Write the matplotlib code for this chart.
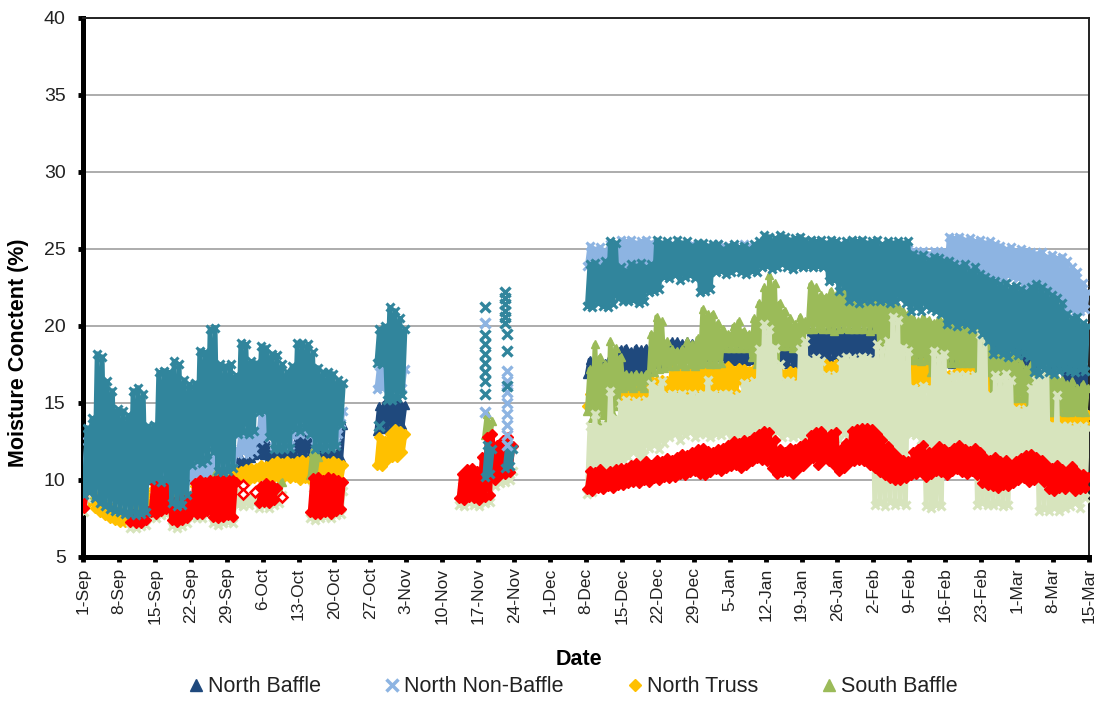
import numpy as np
import pandas as pd
import matplotlib
matplotlib.use('Agg')
import matplotlib.pyplot as plt
from matplotlib.lines import Line2D

plt.rcParams['font.family'] = ['Liberation Sans', 'DejaVu Sans']

# day numbers counted from 1-Sep; readings come in four logging periods
# (1-Sep..21-Oct, 28-Oct..2-Nov, 13-Nov..23-Nov, 8-Dec..15-Mar)
period_start = [0, 57, 73, 98]

# ---------------- North Baffle (daily low / high, %) ----------------
nb_lo = [
    [10.0, 10.1, 10.0, 10.1, 10.0, 10.1, 10.0, 10.1, 10.0, 10.1,
     10.0, 10.1, 10.0, 10.1, 10.0, 10.1, 10.0, 10.1, 10.0, 10.1,
     10.2, 10.3, 10.2, 10.3, 10.2, 10.6, 10.7, 10.6, 10.6, 10.7,
     10.6, 10.8, 10.9, 11.6, 11.7, 11.6, 11.5, 11.6, 11.5, 11.6,
     11.5, 11.6, 11.7, 11.6, 11.7, 11.4, 11.5, 11.4, 11.5, 11.4,
     11.4],
    [13.2, 13.3, 13.4, 13.3, 13.5, 13.6],
    [],
    [16.9, 17.0, 16.9, 17.1, 17.0, 17.1, 16.9, 17.0, 16.9, 17.1,
     17.0, 16.9, 17.0, 17.5, 17.6, 17.5, 18.6, 18.6, 18.6, 18.0,
     18.1, 18.0, 18.1, 18.0, 18.1, 18.0, 18.1, 17.7, 17.8, 17.7,
     17.8, 17.7, 17.8, 18.0, 18.1, 18.0, 18.1, 17.5, 17.6, 17.5,
     17.6, 17.5, 17.6, 18.0, 18.1, 18.0, 18.1, 18.0, 18.1, 18.0,
     18.1, 18.0, 18.1, 18.0, 18.1, 18.0, 18.1, 17.5, 17.6, 17.5,
     17.6, 17.5, 17.6, 17.5, 17.6, 17.5, 17.6, 17.5, 17.6, 17.5,
     17.6, 17.5, 17.6, 17.5, 17.6, 17.5, 17.6, 17.5, 17.6, 17.5,
     17.6, 17.5, 17.6, 17.5, 17.6, 17.5, 17.6, 17.5, 17.6, 17.5,
     17.6, 17.5, 17.6, 16.0, 16.1, 16.0, 16.1, 16.0],
]
nb_hi = [
    [11.5, 11.4, 11.5, 11.4, 11.5, 11.4, 11.5, 11.4, 11.5, 11.4,
     11.5, 11.4, 11.5, 11.4, 11.5, 11.4, 11.5, 11.4, 11.5, 11.4,
     11.0, 11.1, 11.0, 11.1, 11.0, 10.8, 10.9, 10.8, 11.2, 11.3,
     11.4, 11.3, 11.4, 12.5, 12.7, 12.6, 11.9, 11.8, 11.9, 11.8,
     11.9, 13.0, 13.2, 13.1, 13.0, 11.9, 11.8, 11.9, 11.8, 11.9,
     13.6],
    [14.8, 15.0, 15.2, 15.1, 15.0, 14.9],
    [],
    [17.8, 17.7, 17.8, 17.6, 18.0, 18.1, 18.5, 18.6, 18.4, 18.6,
     18.5, 18.6, 18.4, 18.5, 18.4, 18.6, 19.0, 19.0, 18.9, 19.0,
     18.9, 19.0, 18.9, 19.0, 18.9, 19.0, 18.9, 18.5, 18.4, 18.5,
     18.4, 18.5, 18.4, 19.0, 18.9, 19.0, 18.9, 18.6, 18.5, 18.6,
     18.5, 18.6, 18.5, 19.7, 19.6, 19.7, 19.6, 19.7, 19.6, 19.7,
     19.6, 19.7, 19.6, 19.7, 19.6, 19.7, 19.6, 19.0, 18.9, 19.0,
     18.9, 19.0, 18.9, 19.0, 18.9, 19.0, 18.9, 19.0, 18.9, 19.0,
     18.9, 19.0, 18.9, 19.0, 18.9, 19.0, 18.9, 19.0, 18.9, 19.0,
     18.9, 19.0, 18.9, 19.0, 18.9, 19.0, 18.9, 19.0, 18.9, 19.0,
     18.9, 19.0, 18.9, 17.3, 17.2, 17.3, 17.2, 17.3],
]

# ---------------- North Non-Baffle ----------------
nnb_lo = [
    [10.5, 10.6, 10.5, 10.4, 10.5, 10.6, 10.5, 10.4, 10.5, 10.6,
     10.5, 10.4, 10.5, 10.6, 10.5, 10.6, 10.5, 10.4, 10.5, 10.6,
     10.5, 10.0, 10.2, 10.1, 10.3, 10.4, 10.6, 10.7, 10.6, 10.8,
     11.7, 11.8, 11.7, 11.9, 12.6, 12.7, 12.9, 12.2, 12.1, 12.2,
     12.3, 13.1, 13.0, 13.1, 12.9, 12.2, 12.3, 12.2, 12.3, 12.4,
     13.7],
    [15.9, 16.0, 16.2, 16.0, 16.1, 16.0],
    [],
    [23.9, 24.0, 23.9, 24.1, 24.0, 24.1, 23.8, 23.9, 23.8, 23.9,
     23.8, 23.9, 23.8, 24.2, 24.3, 24.2, 24.3, 24.2, 24.3, 24.2,
     24.3, 24.2, 24.3, 24.2, 24.3, 24.2, 24.3, 24.2, 24.3, 24.2,
     24.3, 24.2, 24.3, 24.2, 24.3, 24.2, 24.3, 24.2, 24.3, 24.2,
     24.3, 24.2, 24.3, 24.2, 24.3, 24.2, 24.3, 24.2, 24.3, 24.2,
     24.3, 24.2, 24.3, 24.2, 24.3, 24.2, 24.3, 24.2, 24.3, 24.2,
     24.3, 24.2, 24.3, 23.8, 23.9, 23.8, 23.7, 23.8, 23.9, 23.8,
     23.2, 23.3, 23.2, 23.4, 23.2, 23.3, 23.1, 23.2, 23.3, 23.2,
     23.1, 23.2, 23.3, 23.2, 23.1, 21.9, 22.0, 21.8, 21.9, 22.0,
     21.9, 21.8, 21.9, 21.0, 21.1, 20.9, 21.0, 21.1],
]
nnb_hi = [
    [12.5, 12.4, 12.6, 12.5, 12.4, 12.5, 12.6, 12.5, 12.4, 12.5,
     12.6, 12.5, 12.4, 12.5, 12.6, 12.5, 12.4, 12.5, 12.6, 12.5,
     12.4, 11.2, 11.4, 11.3, 11.5, 13.7, 12.0, 11.9, 12.1, 12.0,
     13.0, 13.2, 13.1, 13.3, 14.9, 14.7, 13.0, 12.9, 13.1, 13.0,
     12.9, 13.6, 13.5, 13.6, 13.4, 13.0, 12.9, 13.0, 13.1, 13.0,
     14.5],
    [17.4, 17.2, 17.5, 17.3, 17.4, 17.2],
    [],
    [25.2, 25.0, 25.1, 24.9, 25.3, 25.2, 25.6, 25.5, 25.6, 25.4,
     25.5, 25.6, 25.4, 25.2, 25.1, 25.3, 25.2, 25.0, 25.2, 25.1,
     25.3, 25.2, 25.0, 25.2, 25.1, 25.3, 25.2, 25.0, 25.2, 25.1,
     25.3, 25.2, 25.0, 25.2, 25.1, 25.3, 25.2, 25.0, 25.2, 25.1,
     25.3, 25.2, 25.0, 25.2, 25.1, 25.3, 25.2, 25.0, 25.2, 25.1,
     25.3, 25.2, 25.0, 25.2, 25.1, 25.3, 25.2, 25.0, 25.2, 25.1,
     25.3, 25.2, 25.0, 24.9, 24.8, 24.9, 24.7, 24.9, 24.8, 24.9,
     25.8, 25.7, 25.8, 25.6, 25.7, 25.5, 25.6, 25.4, 25.5, 25.3,
     25.2, 25.0, 25.1, 24.9, 25.0, 24.9, 24.8, 24.7, 24.8, 24.5,
     24.6, 24.4, 24.5, 24.2, 23.8, 23.5, 22.8, 22.2],
]
# scattered single readings in the November gap
nnb_extra_day = [78.4, 78.4, 82.6, 82.6, 82.6, 82.6, 82.6, 82.6, 82.6, 82.6]
nnb_extra_val = [20.2, 14.4, 17.1, 16.4, 15.7, 15.0, 14.3, 13.6, 12.9, 12.3]

# ---------------- North Truss ----------------
nt_lo = [
    [8.4, 8.6, 8.2, 7.9, 7.7, 7.5, 7.4, 7.3, 7.3, 7.8,
     7.9, 7.8, 7.9, 8.5, 8.6, 8.5, 8.6, 8.0, 8.1, 8.0,
     8.1, 8.5, 8.6, 8.5, 8.6, 8.5, 9.8, 9.9, 9.9, 10.0,
     10.0, 10.1, 10.0, 10.1, 10.2, 10.3, 10.1, 10.2, 10.1, 10.2,
     10.1, 10.2, 10.0, 10.1, 10.0, 10.1, 10.0, 10.1, 10.0, 10.1,
     10.0],
    [11.0, 10.9, 11.3, 11.5, 11.5, 11.8],
    [],
    [14.8, 14.9, 14.8, 14.9, 15.0, 15.1, 15.0, 15.2, 15.3, 15.2,
     15.3, 15.2, 15.5, 15.6, 15.5, 15.6, 15.6, 15.7, 15.6, 15.8,
     15.6, 15.7, 15.6, 15.6, 15.6, 15.7, 15.6, 15.7, 15.6, 15.7,
     16.4, 16.5, 16.4, 16.0, 16.1, 16.0, 16.1, 16.0, 16.1, 16.5,
     16.6, 16.2, 16.3, 16.2, 16.3, 16.2, 16.9, 17.0, 16.9, 16.0,
     16.1, 16.0, 16.1, 16.0, 16.1, 16.0, 16.1, 16.0, 16.1, 16.0,
     16.1, 16.0, 16.1, 16.2, 16.3, 16.2, 16.3, 16.0, 16.1, 16.0,
     16.1, 16.0, 16.9, 17.0, 16.9, 17.0, 16.0, 16.1, 15.6, 15.0,
     15.1, 15.0, 15.1, 14.7, 14.8, 14.7, 14.5, 14.6, 14.5, 14.6,
     13.6, 13.7, 13.6, 13.7, 13.6, 13.7, 13.6, 13.7],
]
nt_hi = [
    [9.0, 9.2, 8.9, 8.6, 8.4, 8.2, 8.0, 7.9, 7.8, 9.2,
     9.1, 9.2, 9.1, 9.5, 9.4, 9.5, 9.4, 8.8, 8.7, 8.8,
     8.7, 9.6, 9.5, 9.6, 9.5, 9.6, 10.3, 10.2, 10.3, 10.5,
     10.6, 10.7, 10.8, 10.8, 11.0, 10.9, 11.1, 11.2, 11.1, 11.2,
     11.1, 11.2, 11.3, 11.2, 11.3, 11.2, 11.2, 11.1, 11.2, 11.1,
     11.0],
    [12.8, 12.5, 13.0, 13.3, 13.2, 13.0],
    [],
    [15.6, 15.5, 15.6, 15.5, 15.8, 15.7, 15.8, 16.0, 15.9, 16.0,
     15.9, 16.0, 16.5, 16.4, 16.5, 16.4, 17.3, 17.1, 17.3, 17.0,
     17.2, 17.3, 17.1, 17.0, 17.4, 17.2, 17.3, 17.4, 17.1, 17.3,
     17.2, 17.1, 17.2, 17.0, 16.9, 17.0, 16.9, 17.0, 16.9, 17.1,
     17.0, 17.0, 16.9, 17.0, 16.9, 17.0, 17.5, 17.4, 17.5, 17.0,
     16.9, 17.0, 16.9, 17.0, 16.9, 17.0, 16.9, 17.0, 16.9, 17.0,
     16.9, 17.0, 16.9, 17.7, 17.5, 17.6, 17.4, 16.9, 16.8, 16.9,
     16.8, 16.9, 17.5, 17.4, 17.5, 17.3, 16.8, 16.7, 16.9, 15.8,
     15.7, 15.8, 15.7, 15.2, 15.1, 15.2, 15.0, 14.9, 15.0, 14.9,
     14.3, 14.2, 14.3, 14.2, 14.3, 14.2, 14.3, 14.2],
]

# ---------------- South Baffle ----------------
sb_lo = [
    [8.4, None, None, None, None, None, None, None, None, None,
     None, None, None, None, None, None, None, None, None, None,
     None, None, None, None, None, 9.8, 9.9, 10.0, None, None,
     None, None, None, 8.9, None, None, None, 9.0, 8.9, None,
     None, None, None, None, 10.3, 10.3, None, None, None, None,
     None],
    [],
    [None, None, None, None, None, 12.9, 12.8, None, None, None, None],
    [14.5, 14.0, 13.8, 14.2, 14.0, 14.3, 14.8, 16.0, 16.1, 16.0,
     16.1, 16.0, 16.5, 17.0, 17.2, 17.3, 17.4, 17.4, 17.5, 17.4,
     17.5, 17.4, 17.5, 17.6, 17.5, 17.5, 17.6, 18.6, 18.6, 18.6,
     18.6, 18.6, 18.0, 17.5, 17.2, 17.0, 17.3, 17.4, 18.7, 18.7,
     18.6, 18.7, 18.7, 19.8, 19.8, 19.9, 19.8, 19.8, 19.7, 19.8,
     19.9, 19.8, 19.8, 19.8, 19.8, 19.7, 19.8, 18.0, 17.8, 17.7,
     17.8, 17.7, 17.8, 17.8, 17.8, 17.7, 17.8, 17.0, 17.0, 16.9,
     17.6, 17.6, 17.6, 17.6, 17.6, 17.6, 17.0, 15.2, 17.0, 15.3,
     15.2, 15.4, 14.9, 15.3, 15.3, 15.3, 14.9, 15.0, 14.9, 14.8,
     14.4, 14.4, 14.5, 14.4, 14.4, 14.5, 14.4, 14.4],
]
sb_hi = [
    [9.0, None, None, None, None, None, None, None, None, None,
     None, None, None, None, None, None, None, None, None, None,
     None, None, None, None, None, 10.4, 10.6, 10.5, None, None,
     None, None, None, 9.4, None, None, None, 9.6, 9.9, None,
     None, None, None, None, 11.9, 11.5, None, None, None, None,
     None],
    [],
    [None, None, None, None, None, 14.3, 13.8, None, None, None, None],
    [17.2, 18.8, 18.0, 17.5, 19.0, 18.6, 18.0, 16.9, 16.8, 16.9,
     16.8, 16.9, 19.5, 20.6, 20.3, 19.0, 18.5, 18.4, 18.5, 19.0,
     18.8, 19.2, 21.1, 20.8, 20.8, 20.2, 19.8, 19.5, 20.0, 20.3,
     19.7, 19.5, 20.5, 21.5, 22.5, 23.3, 22.8, 21.5, 21.0, 20.5,
     20.1, 20.6, 20.3, 22.7, 22.5, 22.0, 21.9, 22.3, 22.0, 22.2,
     22.4, 22.8, 23.4, 23.2, 22.8, 22.5, 22.2, 22.0, 21.7, 21.5,
     21.3, 21.0, 20.8, 20.5, 20.3, 20.6, 20.4, 20.2, 20.5, 20.3,
     20.6, 20.4, 20.5, 20.3, 21.2, 21.0, 20.4, 19.0, 18.7, 18.4,
     18.8, 18.5, 18.4, 18.0, 17.6, 17.2, 17.5, 17.0, 16.9, 17.2,
     16.9, 16.6, 16.5, 16.2, 16.4, 16.0, 16.2, 16.0],
]

# ---------------- pale green series (not in visible legend) ----------------
sr_lo = [
    [7.9, None, None, None, None, None, None, None, None, 6.9,
     6.9, 7.0, 7.1, 7.6, 7.5, 7.7, 7.8, 7.0, 6.9, 7.0,
     7.2, 7.6, 7.5, 7.5, 7.7, 7.2, 7.1, 7.2, 7.3, 7.2,
     8.4, 8.3, 8.4, 8.5, 8.2, 8.3, 8.2, 8.4, 8.5, None,
     None, None, None, None, 7.5, 7.4, 7.5, 7.6, 7.5, 7.7,
     7.8],
    [],
    [8.4, 8.3, 8.5, 8.4, 8.3, 8.5, 8.6, 9.6, 9.8, 9.9, 10.0],
    [9.1, 9.2, 9.6, 10.0, 10.5, 10.8, 11.0, 11.3, 11.5, 11.8,
     11.4, 11.6, 12.1, 12.3, 12.0, 12.4, 12.8, 13.0, 12.6, 12.9,
     13.1, 12.8, 13.0, 13.0, 12.8, 13.0, 12.9, 13.1, 12.7, 12.9,
     13.0, 12.9, 13.2, 13.0, 13.2, 12.9, 13.0, 13.1, 12.8, 13.0,
     12.8, 12.9, 12.6, 13.1, 12.8, 13.0, 12.7, 13.0, 12.8, 12.6,
     13.0, 12.5, 12.8, 13.0, 12.7, 12.5, 8.4, 8.5, 8.3, 8.6,
     8.4, 8.5, 8.4, 13.0, 12.9, 12.6, 8.3, 8.2, 8.4, 8.3,
     11.9, 11.5, 11.3, 11.8, 11.5, 11.9, 8.4, 8.5, 8.4, 8.4,
     8.5, 8.3, 8.4, 10.2, 10.4, 10.1, 10.3, 10.0, 8.0, 8.1,
     8.0, 8.2, 8.0, 8.2, 8.3, 8.5, 8.2, 8.8],
]
sr_hi = [
    [8.8, None, None, None, None, None, None, None, None, 7.6,
     7.6, 7.7, 7.8, 9.0, 9.1, 9.0, 8.9, 8.3, 8.4, 8.3,
     8.5, 9.2, 9.3, 9.2, 9.3, 9.3, 9.4, 9.3, 9.4, 9.2,
     8.8, 8.9, 8.8, 8.9, 9.0, 9.1, 9.0, 8.9, 9.0, None,
     None, None, None, None, 9.5, 9.6, 9.4, 9.6, 9.5, 9.4,
     9.3],
    [],
    [9.6, 9.8, 9.7, 9.9, 10.0, 10.2, 10.4, 10.6, 10.8, 10.7, 10.6],
    [13.5, 14.3, 13.4, 13.6, 15.8, 14.0, 15.0, 15.2, 15.0, 15.1,
     15.0, 15.2, 16.2, 16.0, 16.4, 15.5, 15.6, 15.5, 15.6, 15.4,
     15.6, 15.5, 15.6, 16.5, 15.6, 15.5, 15.6, 15.6, 15.4, 15.5,
     16.3, 16.2, 16.4, 18.5, 20.1, 19.8, 18.6, 17.5, 16.4, 16.4,
     16.3, 18.5, 19.0, 17.8, 17.9, 17.7, 16.8, 16.7, 16.8, 17.8,
     18.0, 17.9, 17.8, 18.0, 17.9, 17.8, 18.8, 18.5, 19.0, 20.6,
     20.4, 18.6, 18.4, 16.0, 15.9, 16.1, 16.0, 18.4, 18.0, 18.2,
     16.7, 16.8, 16.8, 16.8, 16.7, 16.8, 19.5, 19.3, 15.5, 16.8,
     16.6, 16.9, 16.5, 14.6, 14.5, 14.6, 16.0, 16.5, 16.9, 18.0,
     13.6, 15.5, 13.5, 13.5, 13.4, 13.5, 13.5, 13.4],
]

# ---------------- red series ----------------
st_lo = [
    [8.2, None, None, None, None, None, None, None, None, 7.3,
     7.2, 7.2, 7.4, 7.9, 7.8, 8.0, 8.1, 7.4, 7.3, 7.4,
     7.5, 7.9, 7.8, 7.8, 8.0, 7.6, 7.5, 7.6, 7.7, 7.6,
     None, None, None, None, 8.5, 8.6, 8.5, 8.7, None, None,
     None, None, None, None, 7.9, 7.8, 7.8, 7.9, 7.8, 8.0,
     8.1],
    [],
    [8.8, 8.7, 8.9, 8.8, 8.7, 8.9, 9.0, 10.0, 10.3, 10.4, 10.5],
    [9.4, 9.3, 9.5, 9.4, 9.6, 9.5, 9.7, 9.7, 9.8, 9.9,
     9.8, 10.0, 9.9, 10.1, 10.0, 10.2, 10.1, 10.2, 10.4, 10.3,
     10.5, 10.6, 10.4, 10.3, 10.5, 10.7, 10.6, 10.8, 10.9, 11.0,
     10.8, 11.0, 11.2, 11.4, 11.3, 11.2, 10.8, 10.4, 10.5, 10.6,
     10.4, 10.7, 10.9, 11.2, 11.4, 11.0, 11.3, 11.2, 11.0, 10.6,
     10.8, 11.1, 11.2, 11.3, 11.2, 11.0, 10.8, 10.5, 10.3, 10.1,
     10.0, 10.0, 10.1, 10.3, 10.4, 10.5, 10.2, 10.4, 10.6, 10.5,
     10.3, 10.6, 10.7, 10.5, 10.4, 10.6, 10.3, 9.8, 9.7, 9.6,
     9.5, 9.7, 9.6, 9.8, 10.0, 10.1, 9.9, 10.0, 10.2, 9.9,
     9.4, 9.3, 9.5, 9.4, 9.6, 9.3, 9.4, 9.5],
]
st_hi = [
    [9.4, None, None, None, None, None, None, None, None, 7.8,
     7.7, 7.9, 8.0, 9.8, 9.9, 9.9, 9.7, 8.6, 8.8, 8.7,
     8.9, 9.8, 10.0, 9.9, 10.0, 10.0, 10.1, 10.0, 10.1, 9.9,
     None, None, None, None, 9.6, 9.8, 9.7, 9.5, None, None,
     None, None, None, None, 10.1, 10.2, 10.0, 10.2, 10.1, 10.0,
     9.9],
    [],
    [10.4, 10.7, 10.8, 10.6, 11.5, 12.8, 13.0, 12.3, 12.6, 12.8, 12.2],
    [10.6, 10.5, 10.7, 10.4, 10.6, 10.7, 10.8, 10.8, 11.0, 11.1,
     10.9, 11.2, 11.0, 11.3, 11.2, 11.4, 11.3, 11.5, 11.7, 11.6,
     11.8, 12.0, 12.1, 11.9, 11.8, 12.0, 12.1, 12.3, 12.5, 12.4,
     12.6, 12.5, 12.8, 13.0, 13.2, 13.1, 12.6, 12.0, 11.8, 12.1,
     12.0, 12.2, 12.4, 12.9, 13.1, 13.2, 12.8, 13.0, 13.1, 12.0,
     12.4, 13.2, 13.3, 13.4, 13.4, 13.3, 13.0, 12.6, 12.2, 11.8,
     11.5, 11.3, 11.2, 11.8, 12.0, 12.3, 11.8, 11.9, 12.2, 12.0,
     11.8, 12.1, 12.3, 12.0, 11.9, 12.1, 11.8, 11.4, 11.3, 11.5,
     11.2, 11.3, 11.0, 11.2, 11.4, 11.6, 11.7, 11.5, 11.3, 11.0,
     10.8, 11.0, 10.7, 10.6, 10.9, 10.5, 10.4, 10.2],
]
# isolated readings drawn as open diamonds
st_open_day = [31.2, 31.2, 33.5, 38.8]
st_open_val = [9.7, 9.1, 9.2, 8.9]

# ---------------- teal series ----------------
snb_lo = [
    [9.0, 9.2, 8.8, 8.5, 8.3, 8.1, 8.0, 7.9, 7.8, 7.8,
     7.7, 7.8, 7.9, 10.0, 10.1, 9.9, 10.0, 8.5, 8.3, 8.4,
     9.0, 11.0, 11.2, 11.1, 11.3, 11.8, 10.6, 10.5, 10.6, 10.8,
     13.0, 13.1, 13.0, 13.2, 14.4, 14.5, 12.8, 12.0, 12.0, 12.0,
     12.1, 13.3, 13.2, 13.4, 13.0, 12.0, 12.1, 12.0, 12.1, 12.2,
     13.6],
    [17.6, 17.5, 15.2, 15.2, 15.3, 15.5],
    [None, None, None, None, None, 10.2, 10.4, None, None, 10.8, 10.9],
    [21.3, 21.2, 21.5, 21.3, 21.2, 21.4, 21.8, 21.6, 21.6, 21.7,
     21.5, 21.6, 22.2, 22.3, 22.4, 23.2, 23.1, 23.3, 23.0, 23.2,
     23.3, 23.1, 22.2, 22.3, 22.4, 23.5, 23.6, 23.4, 23.5, 23.7,
     23.5, 23.4, 23.6, 23.5, 23.8, 23.9, 23.7, 23.8, 24.0, 23.8,
     23.7, 23.9, 23.8, 23.9, 23.8, 23.9, 23.8, 22.9, 23.0, 22.3,
     22.5, 21.6, 21.8, 21.5, 21.7, 21.6, 21.8, 21.6, 21.7, 21.5,
     21.6, 21.8, 21.5, 21.0, 21.2, 21.0, 21.3, 21.1, 21.0, 20.8,
     20.1, 20.3, 20.0, 20.2, 20.1, 19.8, 20.0, 19.5, 19.0, 18.2,
     18.4, 18.2, 18.0, 18.3, 18.1, 18.2, 18.0, 17.0, 16.9, 17.2,
     17.0, 16.9, 17.1, 17.2, 17.1, 17.0, 17.2, 17.1],
]
snb_hi = [
    [13.4, 14.0, 18.2, 18.0, 16.4, 15.8, 14.6, 14.5, 14.2, 15.8,
     16.0, 15.6, 13.5, 13.6, 17.0, 17.1, 17.0, 17.7, 17.5, 16.5,
     16.2, 16.3, 18.4, 18.3, 19.8, 19.9, 17.5, 17.4, 17.5, 16.8,
     18.9, 18.8, 17.7, 17.6, 18.7, 18.6, 18.2, 18.1, 17.5, 17.0,
     17.4, 18.9, 18.9, 18.8, 18.3, 17.3, 17.0, 17.0, 16.9, 16.5,
     16.3],
    [19.8, 20.0, 21.2, 21.0, 20.5, 19.8],
    [None, None, None, None, None, 12.3, 12.0, None, None, 12.3, 12.0],
    [24.0, 24.1, 23.8, 24.2, 25.5, 25.4, 23.8, 23.6, 24.0, 23.9,
     24.1, 23.8, 24.0, 25.6, 25.4, 25.5, 25.3, 25.6, 25.4, 25.5,
     25.2, 25.4, 25.4, 25.2, 25.3, 25.3, 25.0, 25.2, 25.3, 25.1,
     25.2, 25.0, 25.3, 25.5, 25.9, 25.8, 25.7, 25.9, 25.8, 25.6,
     25.7, 25.8, 25.6, 25.6, 25.5, 25.6, 25.4, 25.6, 25.5, 25.3,
     25.5, 25.6, 25.5, 25.6, 25.4, 25.5, 25.6, 25.3, 25.5, 25.4,
     25.5, 25.4, 25.5, 24.7, 24.5, 24.6, 24.3, 24.5, 24.4, 24.2,
     24.2, 24.0, 23.8, 24.0, 23.6, 23.8, 23.4, 23.2, 23.0, 22.9,
     22.7, 22.8, 22.5, 22.6, 22.4, 22.2, 22.5, 22.7, 22.5, 22.3,
     22.0, 21.8, 21.5, 20.8, 20.5, 20.6, 20.2, 20.0],
]
snb_extra_day = [57.7, 78.4, 78.4, 78.4, 78.4, 78.4, 78.4, 78.4, 78.4,
                 82.3, 82.3, 82.3, 82.3, 82.3, 82.3, 82.6, 82.6, 82.6]
snb_extra_val = [13.5, 21.2, 19.4, 18.8, 18.2, 17.6, 17.0, 16.4, 15.6,
                 22.2, 21.8, 21.4, 21.0, 20.6, 20.2, 19.5, 18.4, 16.1]

legend_names = ['North Baffle', 'North Non-Baffle', 'North Truss', 'South Baffle']

c_nb, c_nnb, c_nt, c_sb = '#1F497D', '#8DB4E2', '#FFC000', '#9BBB59'
c_sr, c_st, c_snb = '#D7E4BD', '#FF0000', '#31859C'

fig = plt.figure(figsize=(10.99, 7.02), dpi=100)
ax = fig.add_axes([0.0755, 0.2066, 0.9154, 0.7678])


def draw_band(lo_parts, hi_parts, color, marker, z, ms=5.5, mew=1.0):
    for start, lo, hi in zip(period_start, lo_parts, hi_parts):
        if len(lo) == 0:
            continue
        lo = np.array(lo, dtype=float)
        hi = np.array(hi, dtype=float)
        days = start + np.arange(len(lo))
        x = np.column_stack([days + 0.25, days + 0.75]).ravel()
        y = np.column_stack([lo, hi]).ravel()
        ax.plot(x, y, color=color, lw=3.4, marker=marker, ms=ms,
                mfc=color, mec=color, mew=mew, zorder=z,
                solid_joinstyle='round', solid_capstyle='round')


draw_band(nb_lo, nb_hi, c_nb, '^', 2)
draw_band(nnb_lo, nnb_hi, c_nnb, 'x', 3, ms=6, mew=2.2)
draw_band(nt_lo, nt_hi, c_nt, 'D', 4, ms=5)
draw_band(sb_lo, sb_hi, c_sb, '^', 5)
draw_band(sr_lo, sr_hi, c_sr, 'x', 6, ms=6, mew=2.2)
draw_band(st_lo, st_hi, c_st, 'D', 7, ms=5)
draw_band(snb_lo, snb_hi, c_snb, 'x', 8, ms=6, mew=2.2)

ax.plot(nnb_extra_day, nnb_extra_val, ls='none', marker='x', ms=6.5, mew=2.4,
        color=c_nnb, zorder=8.5)
ax.plot(snb_extra_day, snb_extra_val, ls='none', marker='x', ms=6.5, mew=2.4,
        color=c_snb, zorder=8.6)
ax.plot(st_open_day, st_open_val, ls='none', marker='D', ms=5.5, mew=1.8,
        mfc='white', mec=c_st, zorder=7.5)

# axes
ax.set_xlim(0, 196)
ax.set_ylim(5, 40)
ax.set_yticks(np.arange(5, 41, 5))
tick_days = np.arange(0, 197, 7)
tick_dates = pd.date_range('2015-09-01', periods=len(tick_days), freq='7D')
ax.set_xticks(tick_days)
ax.set_xticklabels([f'{d.day}-{d:%b}' for d in tick_dates], rotation=90)

ax.grid(axis='y', color='#a6a6a6', lw=1.3)
ax.set_axisbelow(True)

for side in ['left', 'bottom']:
    ax.spines[side].set_linewidth(3.6)
    ax.spines[side].set_color('black')
for side in ['top', 'right']:
    ax.spines[side].set_linewidth(1.4)
    ax.spines[side].set_color('#222222')

ax.tick_params(axis='both', direction='out', length=3.5, width=3.5, color='black')
ax.tick_params(axis='x', labelsize=12.5, pad=4, labelcolor='#222222')
ax.tick_params(axis='y', labelsize=14, pad=9, labelcolor='#222222')

fig.text(0.017, 0.498, 'Moisture Conctent (%)', rotation=90, ha='center', va='center',
         fontsize=15.5, fontweight='bold')
fig.text(0.527, 0.06, 'Date', ha='center', va='center', fontsize=15.5, fontweight='bold')

handles = [
    Line2D([], [], ls='none', marker='^', ms=8, color=c_nb),
    Line2D([], [], ls='none', marker='x', ms=8, mew=2.5, color=c_nnb),
    Line2D([], [], ls='none', marker='D', ms=6.5, color=c_nt),
    Line2D([], [], ls='none', marker='^', ms=8, color=c_sb),
]
fig.legend(handles, legend_names, loc='center', bbox_to_anchor=(0.522, 0.022),
           ncol=4, frameon=False, fontsize=15.5, handlelength=0.6,
           handletextpad=0.25, columnspacing=3.0, labelcolor='#222222')

fig.savefig('out.png', dpi=100)
